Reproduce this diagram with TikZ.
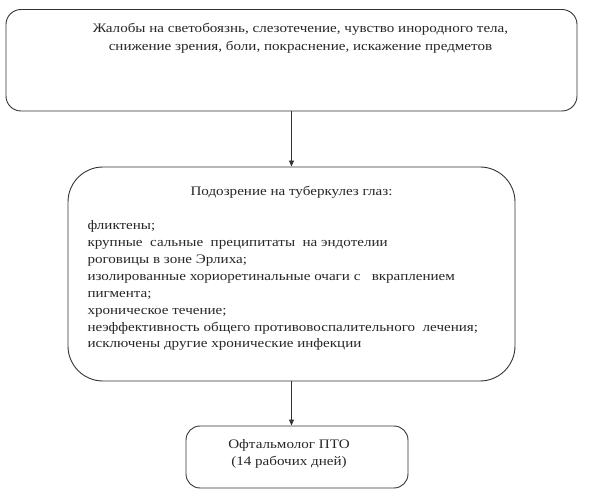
\documentclass[tikz,border=0pt]{standalone}
\usepackage{fontspec}
\setmainfont{Liberation Serif}[FakeStretch=1.16]
\usetikzlibrary{arrows.meta}
\begin{document}
\begin{tikzpicture}[x=1pt,y=-1pt,
  box/.style={draw=black!80, line width=0.9pt, inner sep=0pt},
  txt/.style={inner sep=0pt, text=black!85},
  arr/.style={draw=black!80, line width=0.9pt, -{Triangle[length=6pt,width=5pt]}}]
\useasboundingbox (0,0) rectangle (590,500);
\node[box, rounded corners=15pt, minimum width=571pt, minimum height=101.5pt] (b1) at (291.5,60.25) {};
\node[box, rounded corners=35pt, minimum width=447pt, minimum height=214pt] (b2) at (291.5,274) {};
\node[box, rounded corners=14pt, minimum width=222pt, minimum height=62pt] (b3) at (297,457) {};
% base anchor of a multi-line node = baseline of its last line
\node[txt, align=center, anchor=base, font=\fontsize{13}{18}\selectfont] (t1) at (300.5,51)
  {Жалобы на светобоязнь, слезотечение, чувство инородного тела,\\снижение зрения, боли, покраснение, искажение предметов};
\node[txt, anchor=base, font=\fontsize{13}{17}\selectfont] (t2) at (291.5,196) {Подозрение на туберкулез глаз:};
\node[txt, align=left, anchor=base west, font=\fontsize{13}{16.9}\selectfont] (t3) at (87.3,348)
  {фликтены;\\
   крупные\ \ сальные\ \ преципитаты\ \ на эндотелии\\
   роговицы в зоне Эрлиха;\\
   изолированные хориоретинальные очаги с\ \ \ вкраплением\\
   пигмента;\\
   хроническое течение;\\
   неэффективность общего противовоспалительного\ \ лечения;\\
   исключены другие хронические инфекции};
\node[txt, align=center, anchor=base, font=\fontsize{13}{17}\selectfont] (t4) at (289,465)
  {Офтальмолог ПТО\\(14 рабочих дней)};
\draw[arr] (b1.south) -- (b2.north);
\draw[arr] (b2.south) -- (b2.south |- b3.north);
\end{tikzpicture}
\end{document}
